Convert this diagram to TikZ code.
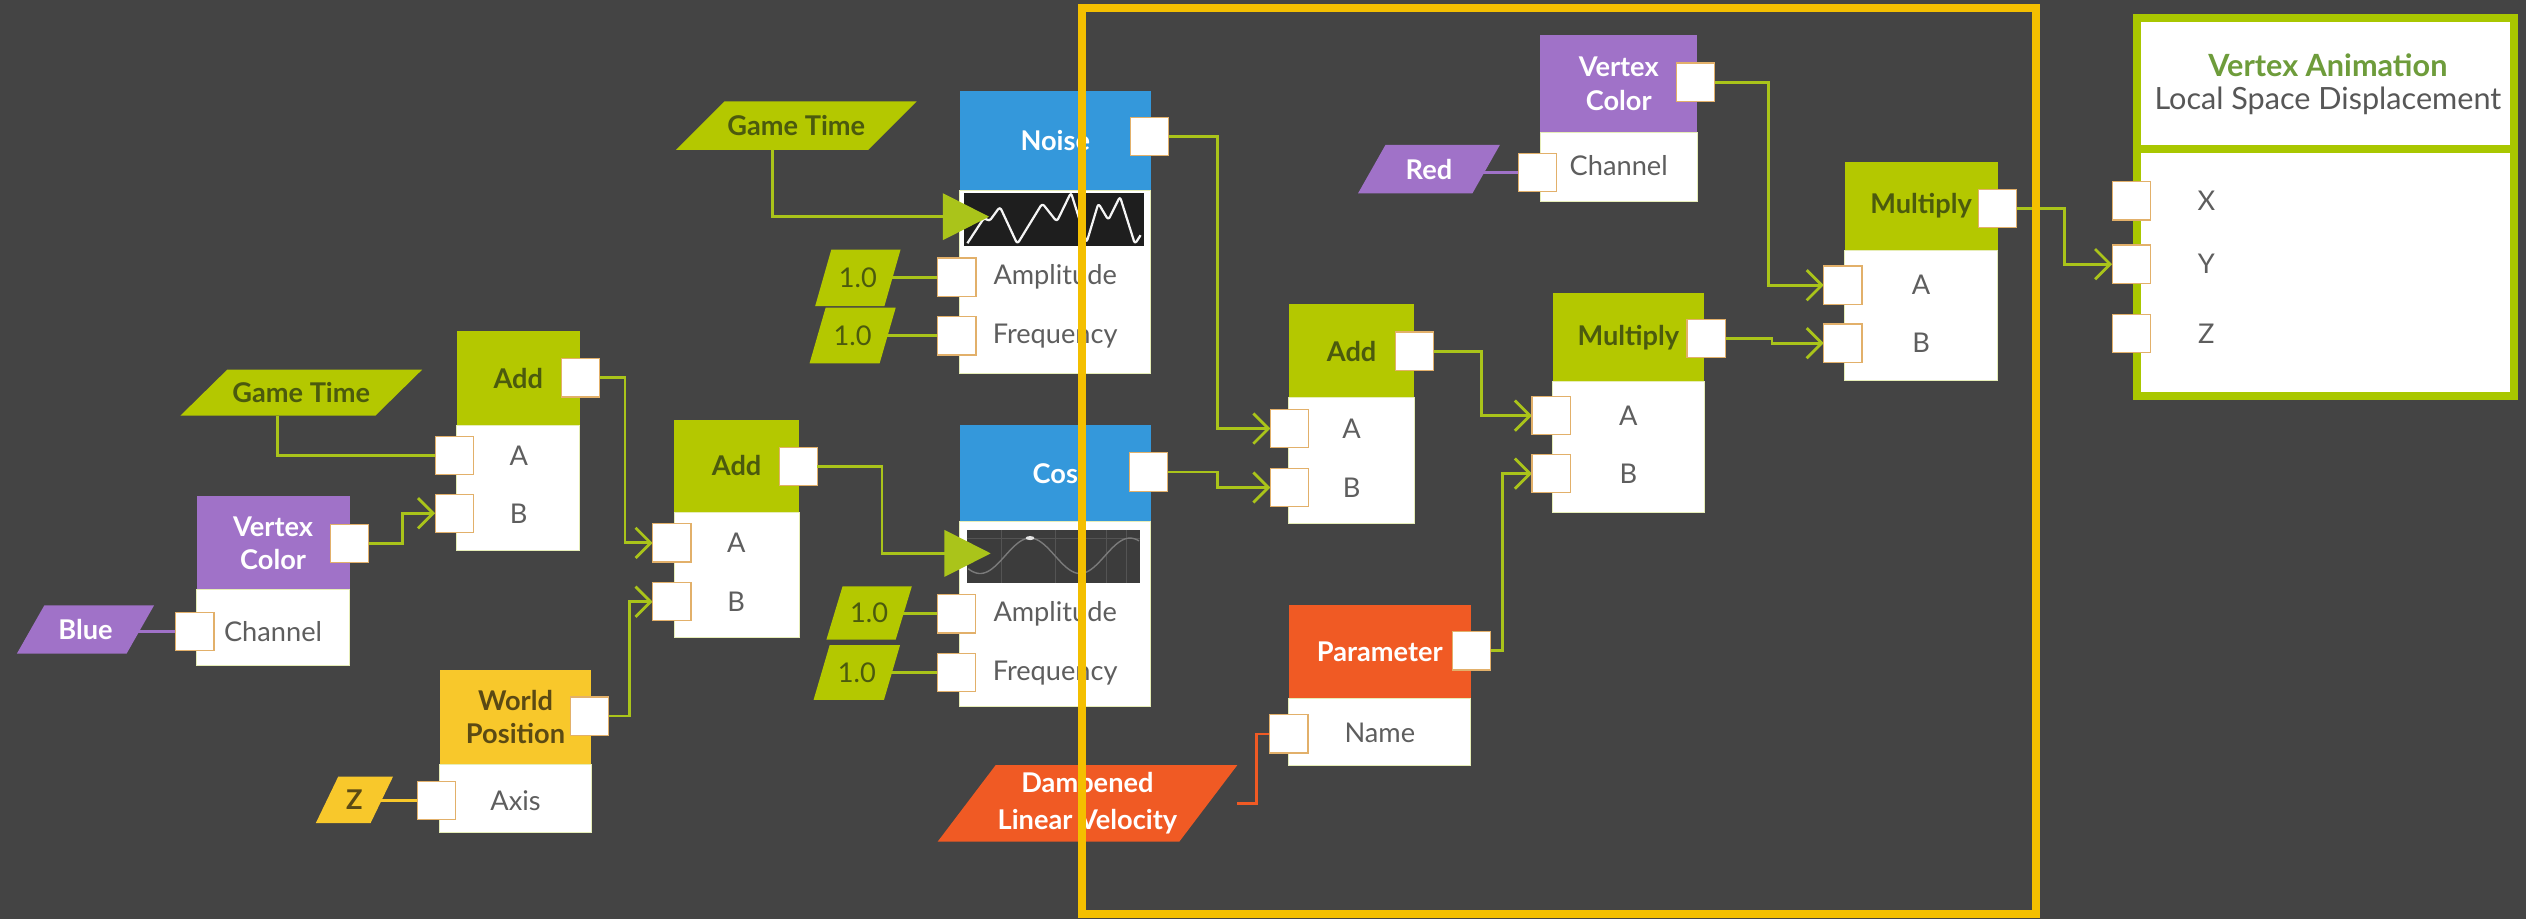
\documentclass[tikz,border=0pt]{standalone}
\usepackage{fontspec}
\setmainfont{Lato}
\usetikzlibrary{fit,calc,arrows.meta}
\pgfdeclarelayer{bg}
\pgfdeclarelayer{wires}
\pgfdeclarelayer{front}
\pgfsetlayers{bg,wires,main,front}

\definecolor{cBg}{HTML}{444444}
\definecolor{cLime}{HTML}{B4C800}
\definecolor{cWire}{HTML}{AAC41A}
\definecolor{cOlive}{HTML}{4B5A0E}
\definecolor{cPurple}{HTML}{A072C8}
\definecolor{cBlue}{HTML}{3498DB}
\definecolor{cOrange}{HTML}{F05A24}
\definecolor{cYellow}{HTML}{F8C82B}
\definecolor{cBrown}{HTML}{5B4A14}
\definecolor{cGold}{HTML}{F4BF00}
\definecolor{cPort}{HTML}{E2B06A}
\definecolor{cLabel}{HTML}{5E5E5E}
\definecolor{cStrip}{HTML}{1E1E1E}
\definecolor{cCosStrip}{HTML}{3C3C3C}
\definecolor{cGrid}{HTML}{545454}
\definecolor{cCurve}{HTML}{7A7A7A}
\definecolor{cAnim}{HTML}{6E9C3B}
\definecolor{cSub}{HTML}{575757}
\definecolor{cOutline}{HTML}{A9C700}
\definecolor{cBodyEdge}{HTML}{E6EDB8}

\tikzset{
  every node/.style={font=\fontsize{13.5}{16.5}\selectfont},
  box/.style={inner sep=0pt, outer sep=0pt},
  hdr/.style={box, fill=#1},
  ttl/.style={text=#1, align=center, inner sep=0pt,
    font=\fontsize{13.5}{16.5}\selectfont\bfseries},
  val/.style={text=#1, align=center, inner sep=0pt},
  body/.style={box, fill=white, draw=cBodyEdge, line width=0.5pt},
  port/.style={draw=cPort, fill=white, line width=0.6pt, minimum size=19pt, inner sep=0pt, outer sep=0pt},
  lbl/.style={text=cLabel, inner sep=0pt},
  para/.style 2 args={box,
    path picture={\fill[#1] (path picture bounding box.south west)
      -- ([xshift=#2]path picture bounding box.north west)
      -- (path picture bounding box.north east)
      -- ([xshift=-#2]path picture bounding box.south east) -- cycle;}},
  plainwire/.style={draw=cWire, line width=1.4pt},
  wire/.style={plainwire, -{Straight Barb[length=7.5pt,width=15pt]}},
  triwire/.style={plainwire, -{Triangle[length=23pt,width=23pt]}},
  stubwire/.style={draw=#1, line width=1.2pt},
  frame/.style={box, draw=cGold, line width=3.8pt},
}

\begin{document}
\begin{tikzpicture}[x=0.8pt,y=-0.8pt]
\useasboundingbox (0,0) rectangle (1568,570.5);
\begin{pgfonlayer}{bg}
  \fill[cBg] (0,0) rectangle (1568,570.5);
\end{pgfonlayer}

% ---------- input values ----------
\node[para={cPurple}{13.6pt}, fit={(10.5,375.8) (95.6,405.7)}] (blue) {};
\node[ttl=white] (blue-t) at (blue) {Blue};
\node[para={cLime}{23.2pt}, fit={(112,229.5) (262,258)}] (gt1) {};
\node[ttl=cOlive] (gt1-t) at (gt1) {Game Time};
\node[para={cYellow}{11.2pt}, fit={(196,482) (244,511)}] (zval) {};
\node[ttl=cBrown] (zval-t) at (zval) {Z};
\node[para={cLime}{24pt}, fit={(419.6,63) (569,93)}] (gt2) {};
\node[ttl=cOlive] (gt2-t) at (gt2) {Game Time};
\node[para={cLime}{8pt}, fit={(506,155) (559,190)}] (n1) {};
\node[val=cOlive] (n1-t) at (n1) {1.0};
\node[para={cLime}{8pt}, fit={(502.5,191) (556,225.6)}] (n2) {};
\node[val=cOlive] (n2-t) at (n2) {1.0};
\node[para={cLime}{8pt}, fit={(513,364) (566,397)}] (c1) {};
\node[val=cOlive] (c1-t) at (c1) {1.0};
\node[para={cLime}{8pt}, fit={(505,400.4) (558.7,434.5)}] (c2) {};
\node[val=cOlive] (c2-t) at (c2) {1.0};
\node[para={cOrange}{28.8pt}, fit={(582,475) (768,522.5)}] (damp) {};
\node[ttl=white, font=\fontsize{13.5}{18.4}\selectfont\bfseries] (damp-t) at (damp) {Dampened\\Linear Velocity};
\node[para={cPurple}{13.6pt}, fit={(843,90) (931,120)}] (red) {};
\node[ttl=white] (red-t) at (red) {Red};

% ---------- Vertex Color (left) ----------
\node[hdr=cPurple, fit={(122,308) (217,366)}] (vc1-head) {};
\node[ttl=white] (vc1-t) at (vc1-head) {Vertex\\Color};
\node[body, fit={(122,366) (217,413)}] (vc1-body) {};
\node[lbl] (vc1-lab) at (169.5,392) {Channel};
\node[port] (vc1-out) at (217,337.5) {};
\node[port] (vc1-in) at (121,392) {};

% ---------- Add 1 ----------
\node[hdr=cLime, fit={(283.5,205.5) (360,264)}] (add1-head) {};
\node[ttl=cOlive] (add1-t) at (add1-head) {Add};
\node[body, fit={(283.5,264) (360,341.5)}] (add1-body) {};
\node[lbl] (add1-la) at (322,282.7) {A};
\node[lbl] (add1-lb) at (322,318.6) {B};
\node[port] (add1-out) at (360.5,234.5) {};
\node[port] (add1-ina) at (282,282.7) {};
\node[port] (add1-inb) at (282,318.6) {};

% ---------- World Position ----------
\node[hdr=cYellow, fit={(273,415.6) (367,474.3)}] (wp-head) {};
\node[ttl=cBrown] (wp-t) at (wp-head) {World\\Position};
\node[body, fit={(273,474.3) (367,516.5)}] (wp-body) {};
\node[lbl] (wp-lab) at (320,497) {Axis};
\node[port] (wp-out) at (366,444.5) {};
\node[port] (wp-in) at (271,497) {};

% ---------- Add 2 ----------
\node[hdr=cLime, fit={(418.5,260.5) (496,318)}] (add2-head) {};
\node[ttl=cOlive] (add2-t) at (add2-head) {Add};
\node[body, fit={(418.5,318) (496,395.7)}] (add2-body) {};
\node[lbl] (add2-la) at (457,337) {A};
\node[lbl] (add2-lb) at (457,373.5) {B};
\node[port] (add2-out) at (495.5,289.5) {};
\node[port] (add2-ina) at (417,337) {};
\node[port] (add2-inb) at (417,373.5) {};

% ---------- Noise ----------
\node[hdr=cBlue, fit={(595.7,56.5) (714.4,118)}] (noise-head) {};
\node[ttl=white] (noise-t) at (noise-head) {Noise};
\node[body, fit={(595.7,118) (714.4,231.7)}] (noise-body) {};
\node[box, fill=cStrip, fit={(598.5,119.5) (710,152.5)}] (noise-img) {};
\draw[white!92!gray, line width=1.1pt, line join=round, rounded corners=1.5pt]
  (600.5,151) -- (611,135) -- (614,137.5) -- (620.7,128.3) -- (631.5,151.5)
  -- (647,126.2) -- (656,137.6) -- (664.8,119.5) -- (674.5,150.5)
  -- (681.8,126.2) -- (688,136.6) -- (695.2,122) -- (704.5,151.5) -- (708,146);
\node[lbl] (noise-la) at (655,172) {Amplitude};
\node[lbl] (noise-lf) at (655,208.5) {Frequency};
\node[port] (noise-out) at (713.5,84.6) {};
\node[port] (noise-amp) at (594,172) {};
\node[port] (noise-freq) at (594,208.5) {};

% ---------- Cos ----------
\node[hdr=cBlue, fit={(595.7,263.8) (714.4,323.8)}] (cos-head) {};
\node[ttl=white] (cos-t) at (cos-head) {Cos};
\node[body, fit={(595.7,323.8) (714.4,438.7)}] (cos-body) {};
\node[box, fill=cCosStrip, fit={(600,329) (707.6,361.7)}] (cos-img) {};
\draw[cGrid, line width=0.5pt] (600,334) -- (707.6,334);
\foreach \gx in {621.8,655,687,699}{\draw[cGrid, line width=0.5pt] (\gx,329) -- (\gx,361.7);}
\draw[cCurve, line width=0.7pt] plot[domain=601:707, samples=80] (\x,{345-11*cos(5.80645*(\x-639.4))});
\fill[white!80!gray] (639.4,334) ellipse[x radius=2.2pt, y radius=1pt];
\node[lbl] (cos-la) at (655,381) {Amplitude};
\node[lbl] (cos-lf) at (655,417.5) {Frequency};
\node[port] (cos-out) at (712.8,293) {};
\node[port] (cos-amp) at (593.8,381) {};
\node[port] (cos-freq) at (593.8,417.5) {};

% ---------- Add 3 ----------
\node[hdr=cLime, fit={(800,188.8) (878,247)}] (add3-head) {};
\node[ttl=cOlive] (add3-t) at (add3-head) {Add};
\node[body, fit={(800,247) (878,324.8)}] (add3-body) {};
\node[lbl] (add3-la) at (839,266) {A};
\node[lbl] (add3-lb) at (839,302.6) {B};
\node[port] (add3-out) at (878,218) {};
\node[port] (add3-ina) at (800.5,266) {};
\node[port] (add3-inb) at (800.5,302.6) {};

% ---------- Parameter ----------
\node[hdr=cOrange, fit={(800,375.6) (913,433.4)}] (par-head) {};
\node[ttl=white] (par-t) at (par-head) {Parameter};
\node[body, fit={(800,433.4) (913,475)}] (par-body) {};
\node[lbl] (par-lab) at (856.5,455) {Name};
\node[port] (par-out) at (913.3,404) {};
\node[port] (par-in) at (800,455.6) {};

% ---------- Multiply 1 ----------
\node[hdr=cLime, fit={(963.7,182) (1058,237)}] (mul1-head) {};
\node[ttl=cOlive] (mul1-t) at (mul1-head) {Multiply};
\node[body, fit={(963.7,237) (1058,318)}] (mul1-body) {};
\node[lbl] (mul1-la) at (1010.8,258) {A};
\node[lbl] (mul1-lb) at (1010.8,294) {B};
\node[port] (mul1-out) at (1059,210) {};
\node[port] (mul1-ina) at (962.8,258) {};
\node[port] (mul1-inb) at (962.8,294) {};

% ---------- Vertex Color (right) ----------
\node[hdr=cPurple, fit={(956,22) (1053.6,82)}] (vc2-head) {};
\node[ttl=white] (vc2-t) at (vc2-head) {Vertex\\Color};
\node[body, fit={(956,82) (1053.6,125)}] (vc2-body) {};
\node[lbl] (vc2-lab) at (1004.8,103) {Channel};
\node[port] (vc2-out) at (1052.4,51) {};
\node[port] (vc2-in) at (954.4,107) {};

% ---------- Multiply 2 ----------
\node[hdr=cLime, fit={(1145,100.4) (1240,155.2)}] (mul2-head) {};
\node[ttl=cOlive] (mul2-t) at (mul2-head) {Multiply};
\node[body, fit={(1145,155.2) (1240,236)}] (mul2-body) {};
\node[lbl] (mul2-la) at (1192.5,177) {A};
\node[lbl] (mul2-lb) at (1192.5,213) {B};
\node[port] (mul2-out) at (1240,129.5) {};
\node[port] (mul2-ina) at (1144,177) {};
\node[port] (mul2-inb) at (1144,213) {};

% ---------- Output ----------
\node[box, draw=cOutline, line width=4pt, fill=white, fit={(1326.3,10.9) (1560.4,245.7)}] (outbox) {};
\draw[cOutline, line width=4pt] (outbox.west |- 0,92.6) -- (outbox.east |- 0,92.6);
\node[text=cAnim, inner sep=0pt, font=\fontsize{15.2}{18}\selectfont\bfseries] (out-title) at (1445,40.4) {Vertex Animation};
\node[text=cSub, inner sep=0pt, font=\fontsize{15.2}{18}\selectfont] (out-sub) at (1445,62.5) {Local Space Displacement};
\node[lbl] (out-lx) at (1369.6,124.7) {X};
\node[lbl] (out-ly) at (1369.6,164) {Y};
\node[lbl] (out-lz) at (1369.6,207) {Z};
\node[port] (out-x) at (1323,124.7) {};
\node[port] (out-y) at (1323,164) {};
\node[port] (out-z) at (1323,207) {};

% ---------- connectors ----------
\begin{pgfonlayer}{wires}
  \draw[stubwire=cPurple] ($(blue)+(0,-4)$) -- ($(blue)+(0,-4)$ -| 103,0) |- (vc1-in.west);
  \draw[stubwire=cYellow] ($(zval)+(0,-3)$) -- ($(zval)+(0,-3)$ -| 251,0) |- (wp-in.west);
  \draw[stubwire=cPurple] ($(red)+(0,-4)$) -- ($(red)+(0,-4)$ -| 938,0) |- (vc2-in.west);
  \draw[stubwire=cOrange, line width=1.4pt] (damp) -- (damp -| 780,0) |- (par-in.west);
  \draw[plainwire] ($(gt1.south)+(-14.5,0)$) |- (add1-ina.west);
  \draw[wire] (vc1-out.east) -- (vc1-out.east -| 250,0) |- (add1-inb.west);
  \draw[wire] (add1-out.east) -- (add1-out.east -| 388,0) |- (add2-ina.west);
  \draw[wire] (wp-out.east) -- (wp-out.east -| 391,0) |- (add2-inb.west);
  \draw[plainwire] (n1 |- noise-amp.west) -- (noise-amp.west);
  \draw[plainwire] (n2 |- noise-freq.west) -- (noise-freq.west);
  \draw[plainwire] (c1 |- cos-amp.west) -- (cos-amp.west);
  \draw[plainwire] (c2 |- cos-freq.west) -- (cos-freq.west);
  \draw[wire] (noise-out.east) -- (noise-out.east -| 756,0) |- (add3-ina.west);
  \draw[wire] (cos-out.east) -- (cos-out.east -| 756,0) |- (add3-inb.west);
  \draw[wire] (add3-out.east) -- (add3-out.east -| 919.5,0) |- (mul1-ina.west);
  \draw[wire] (par-out.east) -- (par-out.east -| 932.5,0) |- (mul1-inb.west);
  \draw[wire] (vc2-out.east) -- (vc2-out.east -| 1097.6,0) |- (mul2-ina.west);
  \draw[wire] (mul1-out.east) -- (mul1-out.east -| 1100,0) |- (mul2-inb.west);
  \draw[wire] (mul2-out.east) -- (mul2-out.east -| 1281.5,0) |- (out-y.west);
\end{pgfonlayer}

% signal arrows into the preview strips
\coordinate (noisetip) at (614,134.5);
\coordinate (costip) at (615,343.5);
\draw[triwire] ($(gt2.south)+(-15,0)$) |- (noisetip);
\draw[triwire] (add2-out.east) -- (add2-out.east -| 547.5,0) |- (costip);

% ---------- highlighted group ----------
\begin{pgfonlayer}{front}
  \node[frame, fit={(671.5,5) (1264,567.5)}] (focus) {};
\end{pgfonlayer}
\end{tikzpicture}
\end{document}
